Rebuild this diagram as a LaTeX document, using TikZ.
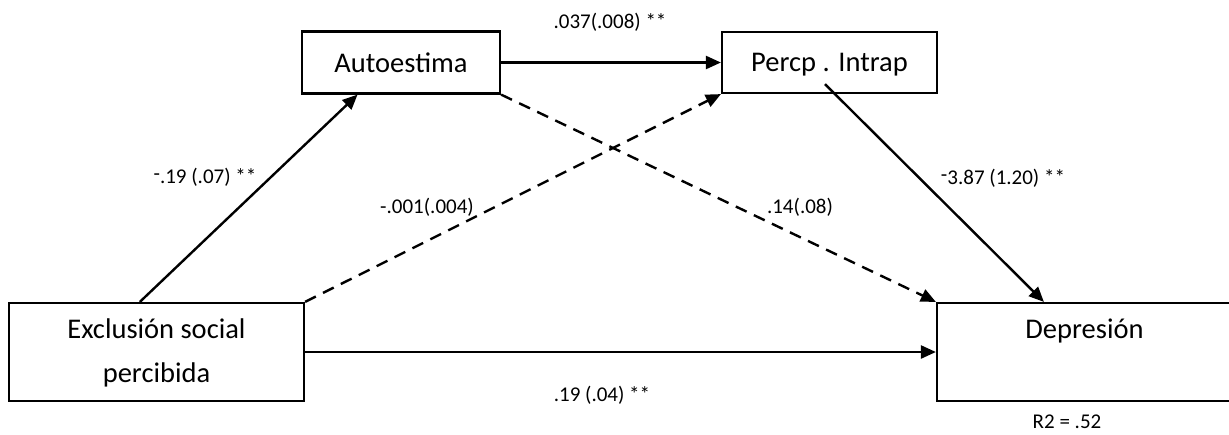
\documentclass[tikz,border=0pt]{standalone}
\usepackage{fontspec}
\setmainfont{Carlito}
\usetikzlibrary{arrows.meta,calc}
\newcommand{\rminus}{\raisebox{0.28ex}{-}}
\newcommand{\lowered}[2]{\raisebox{-#1}{\begin{tabular}{@{}c@{}}#2\end{tabular}}}
\begin{document}
\begin{tikzpicture}[x=1pt,y=-1pt,
  varbox/.style={draw,line width=2.2pt,inner sep=0pt,
    font=\fontsize{28.5}{44}\selectfont},
  coef/.style={inner sep=0pt,font=\fontsize{21}{25}\selectfont},
  path/.style={line width=2.4pt,-{Triangle[length=15pt,width=13pt]}},
  nspath/.style={path,dash pattern=on 12pt off 8pt}]
\useasboundingbox (0,0) rectangle (1229,434);

% variables
\node[varbox,minimum width=198pt,minimum height=62pt] (auto) at (401,62.5) {Autoestima};
\node[varbox,minimum width=215pt,minimum height=61pt] (percp) at (829.5,62.5) {\lowered{1.5pt}{Percp . Intrap}};
\node[varbox,minimum width=295pt,minimum height=98pt] (excl) at (156.5,352) {\lowered{3.5pt}{Exclusión social\\percibida}};
\node[varbox,minimum width=295pt,minimum height=98pt] (dep) at (1084.5,352) {\lowered{4pt}{Depresión\\~}};

% significant paths
\draw[path] ($(excl.north west)!0.444!(excl.north east)$) -- ($(auto.south west)!0.283!(auto.south east)$);
\draw[path] (auto.east) -- (percp.west);
\draw[path] ($(percp.south west)!0.479!(percp.south east)+(0,-10)$) -- ($(dep.north west)+(108,0)$);
\draw[path] (excl.east) -- (excl.east -| dep.west);

% non-significant paths
\draw[nspath] (excl.north east) -- (percp.south west);
\draw[nspath] (auto.south east) -- (dep.north west);

% coefficients
\node[coef] (c1) at (610,22) {.037(.008) **};
\node[coef] (c2) at (205,177) {\rminus.19 (.07) **};
\node[coef] (c3) at (427,207) {-.001(.004)};
\node[coef] (c4) at (800,207) {.14(.08)};
\node[coef] (c5) at (1003,178) {\rminus3.87 (1.20) **};
\node[coef] (c6) at (602,395) {.19 (.04) **};
\node[coef] (r2) at (1067,422) {R2 = .52};
\end{tikzpicture}
\end{document}
